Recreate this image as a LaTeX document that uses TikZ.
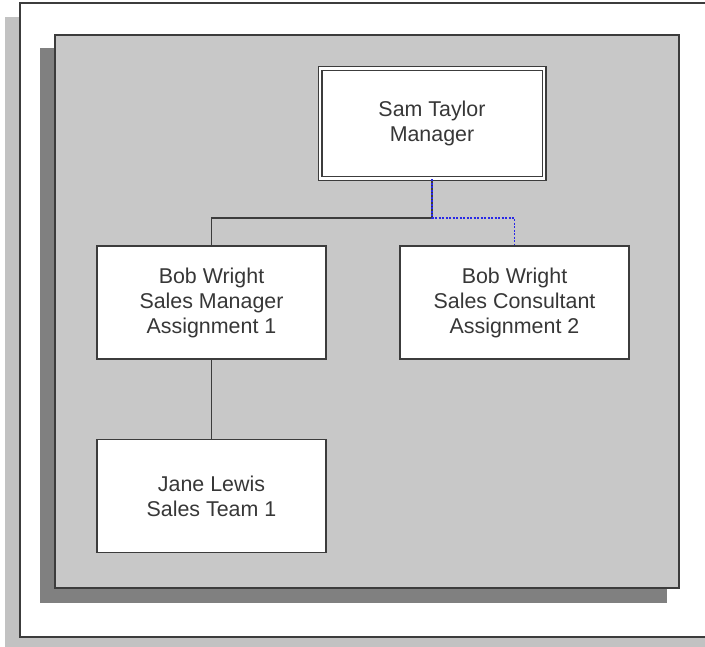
\documentclass[tikz,border=0pt]{standalone}
\usepackage{fontspec}
\setmainfont{Liberation Sans}
\usepackage{xcolor}
\usepackage{tikz}
\definecolor{panelgray}{RGB}{200,200,200}
\definecolor{shadowgray}{RGB}{128,128,128}
\definecolor{lightshadow}{RGB}{194,194,194}
\definecolor{edgegray}{RGB}{60,60,60}
\definecolor{textgray}{RGB}{55,55,55}
\definecolor{dotblue}{RGB}{40,40,230}
\tikzset{
  post/.style={draw=edgegray, line width=1.6pt, fill=white, rectangle,
    minimum width=229pt, minimum height=113pt, inner sep=0pt, align=center,
    text=textgray, font=\fontsize{21.4}{25}\selectfont},
  link/.style={edgegray, line width=1.8pt}
}

\begin{document}
\begin{tikzpicture}[x=1pt,y=-1pt]
\useasboundingbox (0,0) rectangle (705,647);
\path[clip] (0,0) rectangle (705,647);
% outer frame
\fill[lightshadow] (5,17) rectangle (720,660);
\draw[edgegray, line width=1.8pt, fill=white] (20,3) rectangle (720,637);
% panel
\fill[shadowgray] (40,48) rectangle (667,603);
\draw[edgegray, line width=1.8pt, fill=panelgray] (55,35) rectangle (679,588);

\node[post, double=white, double distance=2.4pt, line width=1.3pt,
  minimum width=224pt, minimum height=110pt] (sam) at (432,123.5) {Sam Taylor\\Manager};
\node[post] (bob1) at (211.5,302.5) {Bob Wright\\Sales Manager\\Assignment 1};
\node[post] (bob2) at (514.5,302.5) {Bob Wright\\Sales Consultant\\Assignment 2};
\node[post] (jane) at (211.5,496) {Jane Lewis\\Sales Team 1};

\coordinate (fork) at (432,218);
\draw[link] (bob1.north) |- (fork) -- (sam.south);
\draw[link] (bob1) -- (jane);
\draw[dotblue, line width=1.8pt, dash pattern=on 2pt off 1.5pt]
  (sam.south) -- (fork) -| (bob2.north);
\end{tikzpicture}
\end{document}
